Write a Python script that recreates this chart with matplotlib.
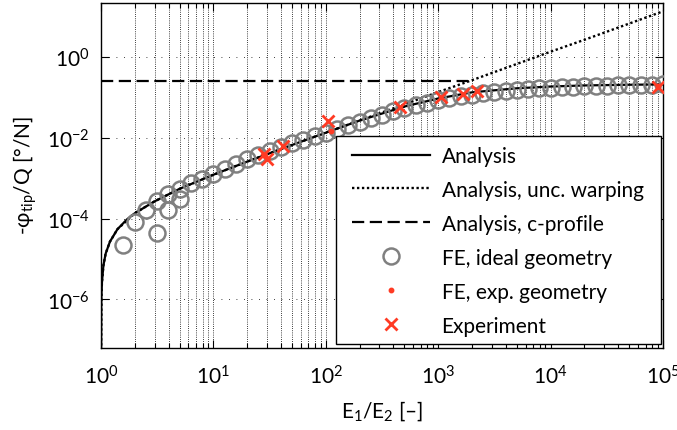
import matplotlib
matplotlib.use("Agg")
import matplotlib.pyplot as plt
import numpy as np
from matplotlib.patches import Rectangle
from matplotlib.ticker import FixedLocator, NullFormatter, LogLocator

# ---- data -------------------------------------------------------------
# FE, ideal geometry (10 runs per decade of stiffness ratio)
fe_ideal_x = 10 ** (np.arange(2, 51) / 10.0)
fe_ideal_y = [2.3e-5, 8.5e-5, 1.6e-4, 2.8e-4, 4.1e-4, 5.5e-4, 7.6e-4, 9.6e-4,
              1.28e-3, 1.7e-3, 2.3e-3, 3.0e-3, 3.8e-3, 4.7e-3, 5.9e-3, 7.3e-3,
              9.0e-3, 0.0110, 0.0135, 0.0168, 0.0208, 0.0255, 0.031, 0.038,
              0.046, 0.055, 0.064, 0.074, 0.085, 0.096, 0.107, 0.118, 0.128,
              0.138, 0.147, 0.155, 0.163, 0.170, 0.176, 0.181, 0.186, 0.190,
              0.194, 0.197, 0.200, 0.203, 0.206, 0.209, 0.212]
# additional FE runs at low stiffness ratio
fe_extra_x = [3.16, 3.98, 5.0]
fe_extra_y = [4.4e-5, 1.6e-4, 3.1e-4]

# FE, experimental geometry
fe_exp_x = [29, 112, 90000]
fe_exp_y = [0.0035, 0.015, 0.19]

# Experiment
exp_x = [28, 30, 42, 105, 460, 1070, 1670, 2200, 90000]
exp_y = [0.0040, 0.0031, 0.0063, 0.026, 0.057, 0.105, 0.12, 0.145, 0.18]

# Analysis
ana_x = [1.0, 1.005, 1.01, 1.02, 1.05, 1.1, 1.2, 1.4, 1.7, 2, 3, 5, 10, 20,
         50, 100, 200, 500, 1000, 2000, 5000, 1e4, 2e4, 5e4, 1e5]
ana_y = [1e-8, 7e-7, 1.4e-6, 2.7e-6, 6.9e-6, 1.37e-5, 2.7e-5, 5.5e-5, 9.6e-5,
         1.37e-4, 2.7e-4, 5.5e-4, 1.23e-3, 2.6e-3, 6.7e-3, 0.0135, 0.027,
         0.060, 0.095, 0.135, 0.170, 0.188, 0.200, 0.208, 0.212]

# Analysis, unconstrained warping
unc_x = [1.0, 1.01, 1.02, 1.05, 1.1, 1.2, 1.4, 2, 3, 5, 10, 20, 50, 100,
         200, 500, 1000, 2000, 5000, 1e4, 2e4, 5e4, 1e5]
unc_y = [1e-8, 1.4e-6, 2.7e-6, 6.9e-6, 1.37e-5, 2.7e-5, 5.5e-5, 1.37e-4,
         2.7e-4, 5.5e-4, 1.23e-3, 2.6e-3, 6.7e-3, 0.0136, 0.027, 0.068,
         0.137, 0.27, 0.68, 1.37, 2.7, 6.8, 13.7]

# Analysis, c-profile
cprof_x = [1.0, 1850]
cprof_y = [0.255, 0.255]

xticks = [1e0, 1e1, 1e2, 1e3, 1e4, 1e5]
xticklabels = ["$10^{0}$", "$10^{1}$", "$10^{2}$", "$10^{3}$", "$10^{4}$", "$10^{5}$"]
yticks = [1e-6, 1e-4, 1e-2, 1e0]
yticklabels = ["$10^{-6}$", "$10^{-4}$", "$10^{-2}$", "$10^{0}$"]

# ---- style ------------------------------------------------------------
FONT = "Lato"
FS = 15
plt.rcParams["font.family"] = [FONT, "DejaVu Sans"]
plt.rcParams["mathtext.fontset"] = "custom"
plt.rcParams["mathtext.rm"] = FONT
plt.rcParams["mathtext.it"] = FONT
plt.rcParams["mathtext.default"] = "regular"
plt.rcParams["font.size"] = FS

RED = "#ff3b24"
GRAY = "#808080"

fig = plt.figure(figsize=(6.77, 4.31), dpi=100)
ax = fig.add_axes([0.1492, 0.1903, 0.8301, 0.8004])
ax.set_xscale("log")
ax.set_yscale("log")
ax.set_xlim(1, 1e5)
ax.set_ylim(6.3e-8, 22)

# grid: dense dotted verticals at every decade subdivision, sparse horizontals
for xv in [m * 10 ** e for e in range(0, 5) for m in range(1, 10)][1:]:
    ax.axvline(xv, color="k", lw=0.6, ls=(0, (1, 1.6)), zorder=0)
for yv in yticks:
    ax.axhline(yv, color="k", lw=0.6, ls=(0, (1, 8)), zorder=0)

ax.plot(ana_x, ana_y, color="k", lw=1.6, label="Analysis", zorder=3)
ax.plot(unc_x, unc_y, color="k", lw=1.7, ls=(0, (1, 1.1)),
        label="Analysis, unc. warping", zorder=3)
ax.plot(cprof_x, cprof_y, color="k", lw=1.6, ls=(0, (5.5, 2.5)),
        label="Analysis, c-profile", zorder=3)
ax.plot(fe_ideal_x, fe_ideal_y, ls="none", marker="o", ms=11.5, mfc="none",
        mec=GRAY, mew=1.8, label="FE, ideal geometry", zorder=4)
ax.plot(fe_extra_x, fe_extra_y, ls="none", marker="o", ms=11.5, mfc="none",
        mec=GRAY, mew=1.8, zorder=4)
ax.plot(fe_exp_x, fe_exp_y, ls="none", marker="o", ms=3.2, color=RED,
        label="FE, exp. geometry", zorder=5)
ax.plot(exp_x, exp_y, ls="none", marker="x", ms=9, mew=2, color=RED,
        label="Experiment", zorder=6)

ax.xaxis.set_major_locator(FixedLocator(xticks))
ax.set_xticklabels(xticklabels)
ax.xaxis.set_minor_locator(LogLocator(base=10, subs=np.arange(2, 10), numticks=20))
ax.xaxis.set_minor_formatter(NullFormatter())
ax.yaxis.set_major_locator(FixedLocator(yticks))
ax.set_yticklabels(yticklabels)
ax.yaxis.set_minor_locator(FixedLocator([]))

ax.tick_params(which="both", direction="in", top=True, right=True,
               labelsize=FS, width=0.8)
ax.tick_params(which="major", length=6)
ax.tick_params(which="minor", length=3.5)
ax.tick_params(axis="x", pad=12)
ax.tick_params(axis="y", pad=8)
for s in ax.spines.values():
    s.set_linewidth(1.0)

ax.set_xlabel("E$_{1}$/E$_{2}$ [–]", fontsize=FS)
ax.set_ylabel("-φ$_{tip}$/Q [°/N]", fontsize=FS)
ax.xaxis.set_label_coords(0.5, -0.145)
ax.yaxis.set_label_coords(-0.111, 0.504)

# legend box (white, black border) with the entries laid out inside it
ax.add_patch(Rectangle((0.418, 0.0116), 0.5784, 0.6029, transform=ax.transAxes,
                       facecolor="white", edgecolor="k", lw=1.0, zorder=7,
                       clip_on=False))
leg = ax.legend(loc="upper left", bbox_to_anchor=(0.4466, 0.586),
                borderaxespad=0, frameon=False, fontsize=FS,
                handlelength=3.75, labelspacing=0.67, borderpad=0,
                handletextpad=0.55)
leg.set_zorder(8)

fig.savefig("out.png", dpi=100)
